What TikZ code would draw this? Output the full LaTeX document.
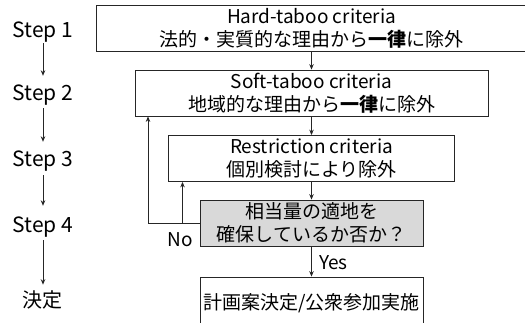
\documentclass[tikz,border=0pt]{standalone}
\usepackage{fontspec}
\setmainfont{Noto Sans CJK JP}
\usetikzlibrary{arrows.meta}
\tikzset{
  linecol/.style={draw=black!85, line width=0.8pt},
  box/.style={linecol, inner sep=0pt, align=center, minimum height=46pt,
    font=\fontsize{19}{23}\selectfont},
  steplab/.style={inner sep=0pt, text height=14pt, text depth=5pt,
    font=\fontsize{21}{24}\selectfont},
  lab/.style={inner sep=0pt, font=\fontsize{19}{23}\selectfont},
  arr/.style={linecol, -{Stealth[length=5.5pt,width=4.5pt]}},
}
\begin{document}
\begin{tikzpicture}[x=1pt,y=-1pt]
\useasboundingbox (0,0) rectangle (525,322);
% main boxes
\node[box, minimum width=430pt] (b1) at (311.5,28.5) {Hard-taboo criteria\\法的・実質的な理由から\textbf{一律}に除外};
\node[box, minimum width=353pt] (b2) at (311.5,93) {Soft-taboo criteria\\地域的な理由から\textbf{一律}に除外};
\node[box, minimum width=286pt] (b3) at (311.5,158.5) {Restriction criteria\\個別検討により除外};
\node[box, minimum width=223pt, fill=black!15] (b4) at (311.5,223) {相当量の適地を\\確保しているか否か？};
\node[box, minimum width=223pt, minimum height=52pt] (b5) at (311.5,303) {計画案決定/公衆参加実施};
% step labels
\node[steplab] (s1) at (43,32.5) {Step 1};
\node[steplab] (s2) at (43,95.5) {Step 2};
\node[steplab] (s3) at (43,161.5) {Step 3};
\node[steplab] (s4) at (43,227.5) {Step 4};
\node[steplab, font=\fontsize{20}{24}\selectfont] (s5) at (43,303) {決定};
% labels
\node[lab] (no) at (180,240) {No};
\node[lab] (yes) at (333.5,263) {Yes};
% coordinates for feedback
\coordinate (fo) at (148,223);
\coordinate (fi) at (182.5,223);
% arrows
\draw[arr] (b1) -- (b2);
\draw[arr] (b2) -- (b3);
\draw[arr] (b3) -- (b4);
\draw[arr] (b4) -- (b5);
\draw[arr] (b4.west) -- (fo) -- (fo |- b2.south);
\draw[arr] (fi) -- (fi |- b3.south);
\draw[arr, shorten <=1pt, shorten >=10pt] (s1) -- (s2);
\draw[arr, shorten <=3pt, shorten >=10pt] (s2) -- (s3);
\draw[arr, shorten <=4pt, shorten >=12pt] (s3) -- (s4);
\draw[arr, shorten <=3pt, shorten >=8.6pt] (s4) -- (s5);
\end{tikzpicture}
\end{document}
